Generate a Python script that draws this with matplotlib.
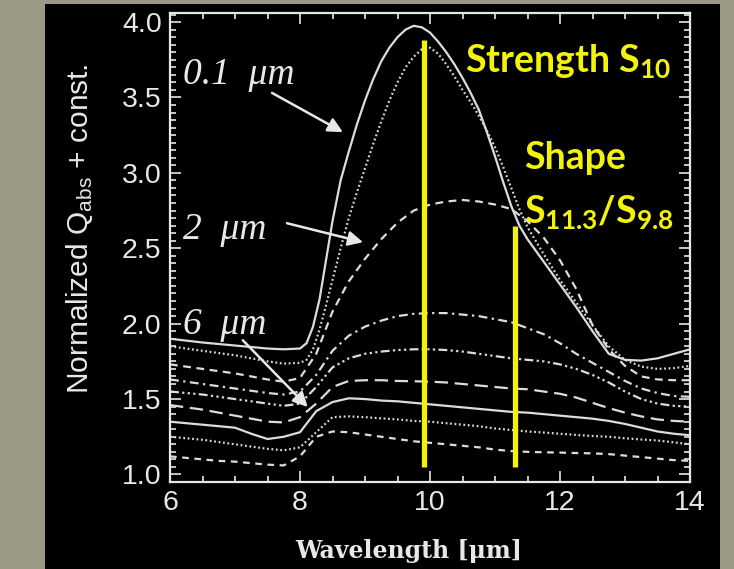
import matplotlib
matplotlib.use("Agg")
import matplotlib.pyplot as plt
from matplotlib.patches import Rectangle
from matplotlib.ticker import MultipleLocator

plt.rcParams['mathtext.default'] = 'regular'

# ---------------- data ----------------
# finer wavelength grid for the strongly peaked 0.1 um curves
wl_fine = [6.0, 6.5, 7.0, 7.5, 7.75, 8.0, 8.1, 8.2, 8.3, 8.4, 8.5, 8.625, 8.75,
           8.875, 9.0, 9.125, 9.25, 9.375, 9.5, 9.625, 9.75, 9.875, 10.0, 10.125,
           10.25, 10.375, 10.5, 10.625, 10.75, 10.875, 11.0, 11.125, 11.25, 11.375,
           11.5, 11.75, 12.0, 12.25, 12.5, 12.75, 13.0, 13.25, 13.5, 13.75, 14.0]
q_01_solid = [1.90, 1.875, 1.855, 1.835, 1.83, 1.835, 1.87, 1.98, 2.16, 2.42, 2.68,
              2.95, 3.14, 3.32, 3.48, 3.62, 3.74, 3.83, 3.90, 3.95, 3.975, 3.965,
              3.93, 3.87, 3.80, 3.72, 3.63, 3.53, 3.42, 3.27, 3.11, 2.94, 2.78,
              2.65, 2.56, 2.41, 2.26, 2.11, 1.95, 1.80, 1.76, 1.755, 1.77, 1.80, 1.83]
q_01_dot = [1.85, 1.82, 1.79, 1.75, 1.735, 1.74, 1.76, 1.83, 1.96, 2.12, 2.29,
            2.50, 2.70, 2.87, 3.03, 3.19, 3.34, 3.48, 3.60, 3.70, 3.77, 3.82,
            3.83, 3.79, 3.72, 3.64, 3.55, 3.47, 3.38, 3.28, 3.17, 3.04, 2.90,
            2.76, 2.64, 2.46, 2.29, 2.14, 1.99, 1.85, 1.76, 1.715, 1.70, 1.705, 1.72]

wavelength = [6.0, 6.25, 6.5, 6.75, 7.0, 7.25, 7.5, 7.75, 8.0, 8.25, 8.5, 8.75,
              9.0, 9.25, 9.5, 9.75, 10.0, 10.25, 10.5, 10.75, 11.0, 11.25, 11.5,
              11.75, 12.0, 12.25, 12.5, 12.75, 13.0, 13.25, 13.5, 13.75, 14.0]
q_2_dash = [1.73, 1.715, 1.70, 1.685, 1.67, 1.65, 1.63, 1.615, 1.64, 1.80, 2.08, 2.28,
            2.43, 2.56, 2.67, 2.75, 2.79, 2.81, 2.82, 2.81, 2.79, 2.76, 2.68,
            2.57, 2.42, 2.23, 1.99, 1.83, 1.72, 1.65, 1.63, 1.625, 1.625]
q_dashdot = [1.63, 1.615, 1.60, 1.585, 1.57, 1.555, 1.54, 1.53, 1.55, 1.66, 1.82, 1.92,
             1.98, 2.02, 2.05, 2.065, 2.07, 2.07, 2.06, 2.05, 2.03, 2.01, 1.97,
             1.93, 1.87, 1.80, 1.74, 1.68, 1.62, 1.57, 1.54, 1.52, 1.515]
q_dashdotdot = [1.55, 1.54, 1.53, 1.515, 1.50, 1.485, 1.47, 1.455, 1.47, 1.58, 1.71, 1.77,
                1.80, 1.815, 1.825, 1.83, 1.83, 1.825, 1.815, 1.80, 1.785, 1.77, 1.76,
                1.75, 1.73, 1.70, 1.66, 1.61, 1.55, 1.50, 1.47, 1.455, 1.45]
q_longdash = [1.46, 1.445, 1.43, 1.41, 1.39, 1.37, 1.35, 1.345, 1.38, 1.47, 1.58, 1.62,
              1.625, 1.625, 1.62, 1.618, 1.615, 1.61, 1.60, 1.59, 1.58, 1.57, 1.565,
              1.55, 1.535, 1.51, 1.475, 1.44, 1.41, 1.385, 1.365, 1.355, 1.35]
q_6_solid = [1.35, 1.34, 1.33, 1.32, 1.31, 1.27, 1.235, 1.25, 1.28, 1.42, 1.48, 1.505,
             1.50, 1.49, 1.485, 1.475, 1.465, 1.455, 1.445, 1.435, 1.425, 1.415, 1.41,
             1.40, 1.39, 1.38, 1.37, 1.355, 1.335, 1.31, 1.285, 1.27, 1.26]
q_low_dot = [1.25, 1.24, 1.23, 1.215, 1.20, 1.185, 1.17, 1.16, 1.18, 1.28, 1.38, 1.385,
             1.38, 1.372, 1.365, 1.355, 1.35, 1.34, 1.33, 1.32, 1.305, 1.295, 1.285,
             1.278, 1.27, 1.262, 1.255, 1.25, 1.24, 1.232, 1.225, 1.213, 1.20]
q_low_dash = [1.12, 1.11, 1.10, 1.09, 1.085, 1.075, 1.065, 1.06, 1.12, 1.25, 1.285, 1.28,
              1.265, 1.25, 1.235, 1.22, 1.21, 1.20, 1.19, 1.18, 1.165, 1.155, 1.15,
              1.147, 1.145, 1.142, 1.14, 1.135, 1.125, 1.115, 1.105, 1.095, 1.09]

# yellow measurement markers: (wavelength, bottom, top)
strength_marker = (9.9, 1.05, 3.88)
shape_marker = (11.3, 1.05, 2.65)

x_ticks = [6, 8, 10, 12, 14]
y_ticks = [1.0, 1.5, 2.0, 2.5, 3.0, 3.5, 4.0]

# ---------------- styling ----------------
LINE = '#dcdcdc'
YEL = '#f2f20a'
WHITE = '#e8e8e8'

fig = plt.figure(figsize=(7.34, 5.69), dpi=100)
fig.patch.set_facecolor('#9b9886')
fig.patches.append(Rectangle((45 / 734, 0), (720 - 45) / 734, (569 - 4) / 569,
                             transform=fig.transFigure, facecolor='black',
                             edgecolor='none', zorder=-10))

ax = fig.add_axes([170 / 734, 87 / 569, 520 / 734, 469 / 569])
ax.set_facecolor('black')

lw = 1.6
series = [
    (wl_fine, q_01_solid, (0, ())),
    (wl_fine, q_01_dot, (0, (0.8, 1.2))),
    (wavelength, q_2_dash, (0, (3.5, 2.5))),
    (wavelength, q_dashdot, (0, (4, 2, 1, 2))),
    (wavelength, q_dashdotdot, (0, (4, 1.5, 1, 1.5, 1, 1.5, 1, 1.5))),
    (wavelength, q_longdash, (0, (6, 3))),
    (wavelength, q_6_solid, (0, ())),
    (wavelength, q_low_dot, (0, (0.8, 1.2))),
    (wavelength, q_low_dash, (0, (3, 2.5))),
]
for xs, vals, ls in series:
    ax.plot(xs, vals, color=LINE, lw=lw, linestyle=ls)

for xm, y0, y1 in (strength_marker, shape_marker):
    ax.plot([xm, xm], [y0, y1], color=YEL, lw=3.8, solid_capstyle='butt')

ax.set_xlim(6, 14)
ax.set_ylim(0.95, 4.06)
ax.set_xticks(x_ticks)
ax.set_yticks(y_ticks)
ax.set_yticklabels([f'{v:.1f}' for v in y_ticks])
ax.xaxis.set_minor_locator(MultipleLocator(0.5))
ax.yaxis.set_minor_locator(MultipleLocator(0.05))
ax.tick_params(which='both', direction='in', top=True, right=True, color=WHITE,
               width=1.2)
ax.tick_params(which='major', length=8, labelsize=20.5, labelcolor=WHITE, pad=6)
ax.tick_params(which='minor', length=4)
for lab in ax.get_xticklabels() + ax.get_yticklabels():
    lab.set_family('Liberation Sans')
for sp in ax.spines.values():
    sp.set_color(WHITE)
    sp.set_linewidth(1.6)

ax.set_ylabel('Normalized Q$_{abs}$ + const.', color=WHITE, fontsize=21.5,
              family='Liberation Sans')
ax.yaxis.set_label_coords(-0.144, 0.541)
ax.set_xlabel('Wavelength [μm]', color=WHITE, fontsize=17, family='DejaVu Serif',
              weight='bold')
ax.xaxis.set_label_coords(0.46, -0.1215)

# annotations
tfont = dict(family='Liberation Serif', style='italic', fontsize=27, color=WHITE)
aprops = dict(arrowstyle='-|>', color=WHITE, lw=1.8, mutation_scale=22,
              shrinkA=0, shrinkB=0)
ax.text(6.2, 3.65, '0.1  μm', va='center', ha='left', **tfont)
ax.annotate('', xy=(8.66, 3.27), xytext=(7.57, 3.53), arrowprops=aprops)
ax.text(6.2, 2.62, '2  μm', va='center', ha='left', **tfont)
ax.annotate('', xy=(8.97, 2.54), xytext=(7.8, 2.666), arrowprops=aprops)
ax.text(6.2, 1.99, '6  μm', va='center', ha='left', **tfont)
ax.annotate('', xy=(8.12, 1.447), xytext=(7.12, 1.89), arrowprops=aprops)

yfont = dict(family='Lato', weight='bold', fontsize=27, color=YEL)
ax.text(10.54, 3.745, 'Strength S$_{10}$', ha='left', va='center', **yfont)
ax.text(11.45, 3.10, 'Shape', ha='left', va='center', **yfont)
ax.text(11.45, 2.74, 'S$_{11.3}$/S$_{9.8}$', ha='left', va='center', **yfont)

fig.savefig('out.png', dpi=100, facecolor=fig.get_facecolor())
